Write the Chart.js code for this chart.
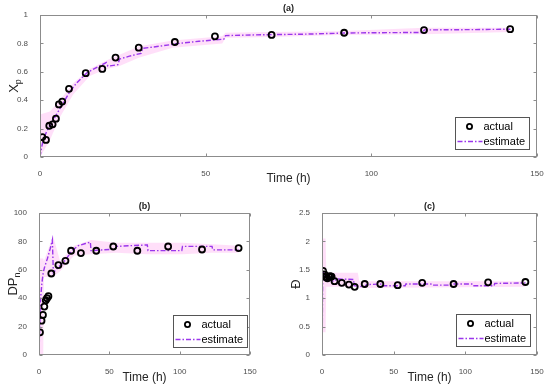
<!DOCTYPE html>
<html>
<head>
<meta charset="utf-8">
<script src="https://cdn.jsdelivr.net/npm/chart.js@4.4.1/dist/chart.umd.min.js"></script>
<style>
  body { margin: 0; background: #fff; }
  #wrap { position: relative; width: 550px; height: 389px; }
  canvas { position: absolute; }
</style>
</head>
<body>
<div id="wrap">
  <canvas id="chartA" width="550" height="195" style="left:0;top:0"></canvas>
  <canvas id="chartB" width="275" height="194" style="left:0;top:195px"></canvas>
  <canvas id="chartC" width="275" height="194" style="left:275px;top:195px"></canvas>
</div>
<script>
// sampling times (h), shared by all three panels
var times = [0.7, 1.8, 2.8, 3.8, 4.8, 5.7, 6.7, 8.75, 13.8, 18.8, 22.8, 29.8, 40.7, 52.8, 69.9, 91.8, 115.9, 141.9];

// measured values
var xpActual   = [0.14, 0.12, 0.22, 0.23, 0.27, 0.37, 0.39, 0.48, 0.59, 0.62, 0.70, 0.77, 0.81, 0.85, 0.86, 0.875, 0.894, 0.90];
var dpnActual  = [16, 24.2, 28.2, 34.1, 38.6, 40, 41.4, 57.4, 63.3, 66.3, 73.4, 71.8, 73.4, 76.4, 73.4, 76.4, 74.3, 75.3];
var dispActual = [1.48, 1.42, 1.37, 1.35, 1.38, 1.39, 1.38, 1.30, 1.27, 1.24, 1.20, 1.25, 1.25, 1.23, 1.27, 1.25, 1.28, 1.285];

// estimate (a)
var estA_t = [0, 0.5, 1, 2, 3, 4, 5, 6, 7, 8, 9, 11, 14, 17, 20, 20.5, 23.5, 24, 27, 30.5, 31, 36, 42, 48, 55.5, 56, 65, 80, 92, 100, 115.5, 116, 130, 142];
var estA_y = [0, 0.07, 0.12, 0.18, 0.22, 0.26, 0.30, 0.34, 0.38, 0.42, 0.46, 0.52, 0.59, 0.63, 0.665, 0.64, 0.65, 0.69, 0.71, 0.73, 0.765, 0.78, 0.80, 0.815, 0.83, 0.855, 0.86, 0.865, 0.873, 0.875, 0.877, 0.895, 0.897, 0.90];
var bandA_t  = [0, 3, 6, 10, 15, 20, 24, 30, 40, 55, 56, 70, 90, 116, 142];
var bandA_lo = [0, 0.12, 0.28, 0.44, 0.57, 0.62, 0.64, 0.70, 0.77, 0.80, 0.84, 0.845, 0.86, 0.865, 0.88];
var bandA_hi = [0.30, 0.32, 0.40, 0.52, 0.62, 0.68, 0.72, 0.78, 0.82, 0.85, 0.875, 0.88, 0.885, 0.91, 0.91];

// estimate (b)
var estB_t = [0, 0.5, 1, 2, 3, 4, 6, 8, 9.5, 10.2, 12, 15, 18, 21, 24, 28, 33, 36.5, 37, 45, 54, 55, 65, 77, 77.5, 101.5, 102, 123, 123.5, 142];
var estB_y = [0, 20, 38, 50, 58, 62, 68, 75, 81, 58, 60, 63, 66, 70, 74, 77, 78.5, 79.5, 73.5, 74, 74.5, 76.5, 77, 77.5, 73.5, 73.5, 76.5, 76.5, 74, 74];
var bandB_t  = [0, 3, 3.5, 10, 15, 25, 37, 55, 77, 102, 123, 142];
var bandB_lo = [0, 0, 55, 55, 59, 70, 71, 72, 71, 71, 72, 72];
var bandB_hi = [68, 68, 66, 84, 66, 77, 81, 79, 79, 79, 78, 77];

// estimate (c)
var estC_t = [0, 0.2, 0.5, 1, 2, 3, 5, 7, 9, 10, 22, 22.5, 30, 31, 42, 42.5, 58, 58.5, 76, 76.5, 90, 90.5, 105, 105.5, 120, 120.5, 142];
var estC_y = [2.0, 0.45, 1.48, 1.45, 1.40, 1.36, 1.33, 1.30, 1.30, 1.34, 1.33, 1.22, 1.20, 1.24, 1.25, 1.22, 1.22, 1.25, 1.25, 1.23, 1.23, 1.25, 1.25, 1.22, 1.22, 1.26, 1.27];
var bandC_t  = [0, 2.5, 3, 25, 26, 142];
var bandC_lo = [0.4, 0.4, 1.2, 1.2, 1.18, 1.2];
var bandC_hi = [2.05, 2.05, 1.45, 1.45, 1.3, 1.3];

var purple = '#9a36ec';
var bandColor = 'rgba(255, 170, 238, 0.38)';
var axisGray = '#8c8c8c';
var fontFam = '"Liberation Sans", Arial, sans-serif';
var dashDot = [5, 2, 1.5, 2];

var toXY = function(xs, ys) {
    var out = [];
    for (var i = 0; i < xs.length; i++) {
        out.push({ x: xs[i], y: ys[i] });
    }
    return out;
};

// matlab style labels: 0, 0.2, 1 (not 1.0)
var tickFmt = function(v) {
    return String(+Number(v).toFixed(2));
};

// box, inward ticks, panel title, y label and legend (MATLAB look)
var framePlugin = {
    id: 'frame',
    afterDraw: function(chart) {
        var o = chart.options.plugins.frame;
        var ctx = chart.ctx;
        var a = chart.chartArea;
        var xs = chart.scales.x, ys = chart.scales.y;
        ctx.save();
        ctx.strokeStyle = axisGray;
        ctx.lineWidth = 1;
        var L = Math.round(a.left) + 0.5, R = Math.round(a.right) - 0.5;
        var T = Math.round(a.top) + 0.5, B = Math.round(a.bottom) - 0.5;
        ctx.strokeRect(L, T, R - L, B - T);
        ctx.beginPath();
        xs.ticks.forEach(function(t) {
            var px = Math.round(xs.getPixelForValue(t.value)) + 0.5;
            ctx.moveTo(px, B); ctx.lineTo(px, B - 3);
            ctx.moveTo(px, T); ctx.lineTo(px, T + 3);
        });
        ys.ticks.forEach(function(t) {
            var py = Math.round(ys.getPixelForValue(t.value)) + 0.5;
            ctx.moveTo(L, py); ctx.lineTo(L + 3, py);
            ctx.moveTo(R, py); ctx.lineTo(R - 3, py);
        });
        ctx.stroke();

        // panel title
        ctx.fillStyle = '#222';
        ctx.font = 'bold 9px ' + fontFam;
        ctx.textAlign = 'center';
        ctx.textBaseline = 'middle';
        ctx.fillText(o.title, (a.left + a.right) / 2, o.titleY);

        // y label with subscript
        ctx.save();
        ctx.translate(o.yLabelX, (a.top + a.bottom) / 2);
        ctx.rotate(-Math.PI / 2);
        ctx.fillStyle = '#262626';
        ctx.font = '13px ' + fontFam;
        var w1 = ctx.measureText(o.yLabel).width;
        var w2 = 0;
        if (o.ySub) {
            ctx.font = '9px ' + fontFam;
            w2 = ctx.measureText(o.ySub).width;
        }
        var sx = -(w1 + w2) / 2;
        ctx.textAlign = 'left';
        ctx.font = '13px ' + fontFam;
        ctx.fillText(o.yLabel, sx, 0);
        if (o.ySub) {
            ctx.font = '9px ' + fontFam;
            ctx.fillText(o.ySub, sx + w1, 5);
        }
        ctx.restore();

        // legend
        var bw = 74, bh = 32;
        var bx = Math.round(a.right - o.legGapR - bw) + 0.5;
        var by = Math.round(a.bottom - o.legGapB - bh) + 0.5;
        ctx.fillStyle = '#fff';
        ctx.fillRect(bx, by, bw, bh);
        ctx.strokeStyle = '#555';
        ctx.strokeRect(bx, by, bw, bh);
        ctx.beginPath();
        ctx.strokeStyle = '#000';
        ctx.lineWidth = 1.8;
        ctx.arc(bx + 14, by + 9, 2.6, 0, Math.PI * 2);
        ctx.stroke();
        ctx.beginPath();
        ctx.strokeStyle = purple;
        ctx.lineWidth = 1.4;
        ctx.setLineDash(dashDot);
        ctx.moveTo(bx + 2, by + 24);
        ctx.lineTo(bx + 27, by + 24);
        ctx.stroke();
        ctx.setLineDash([]);
        ctx.fillStyle = '#000';
        ctx.font = '11px ' + fontFam;
        ctx.textAlign = 'left';
        ctx.textBaseline = 'middle';
        ctx.fillText('actual', bx + 28, by + 9.5);
        ctx.fillText('estimate', bx + 28, by + 24);
        ctx.restore();
    }
};

var makeChart = function(id, cfg) {
    var ctx = document.getElementById(id);
    return new Chart(ctx, {
        type: 'scatter',
        data: {
            datasets: [
                {
                    label: 'actual',
                    data: toXY(times, cfg.actual),
                    pointRadius: 3,
                    pointBorderWidth: 1.8,
                    pointBorderColor: '#000',
                    pointBackgroundColor: 'rgba(0,0,0,0)',
                    showLine: false
                },
                {
                    label: 'estimate',
                    data: toXY(cfg.estT, cfg.estY),
                    showLine: true,
                    borderColor: purple,
                    borderWidth: 1.4,
                    borderDash: dashDot,
                    pointRadius: 0,
                    tension: 0,
                    fill: false
                },
                {
                    label: 'hi',
                    data: toXY(cfg.bandT, cfg.bandHi),
                    showLine: true,
                    borderWidth: 0,
                    borderColor: 'rgba(0,0,0,0)',
                    pointRadius: 0,
                    backgroundColor: bandColor,
                    fill: '+1'
                },
                {
                    label: 'lo',
                    data: toXY(cfg.bandT, cfg.bandLo),
                    showLine: true,
                    borderWidth: 0,
                    borderColor: 'rgba(0,0,0,0)',
                    pointRadius: 0,
                    fill: false
                }
            ]
        },
        options: {
            responsive: false,
            animation: false,
            devicePixelRatio: 1,
            layout: { padding: { top: cfg.padTop, right: cfg.padRight, left: 0, bottom: 0 } },
            plugins: {
                legend: { display: false },
                tooltip: { enabled: false },
                frame: cfg.frame
            },
            scales: {
                x: {
                    type: 'linear',
                    min: 0, max: 150,
                    grid: { display: false },
                    border: { display: false },
                    ticks: { stepSize: 50, padding: 4, color: '#4d4d4d', font: { size: 8, family: fontFam }, callback: tickFmt },
                    title: {
                        display: true, text: 'Time (h)', color: '#262626',
                        font: { size: 12, family: fontFam },
                        padding: { top: 0, bottom: cfg.xTitlePad }
                    },
                    afterFit: function(s) { s.height = cfg.xHeight; }
                },
                y: {
                    min: cfg.yMin, max: cfg.yMax,
                    grid: { display: false },
                    border: { display: false },
                    ticks: { stepSize: cfg.yStep, padding: 4, color: '#4d4d4d', font: { size: 8, family: fontFam }, callback: tickFmt },
                    afterFit: function(s) { s.width = cfg.yWidth; }
                }
            }
        },
        plugins: [framePlugin]
    });
};

makeChart('chartA', {
    actual: xpActual, estT: estA_t, estY: estA_y,
    bandT: bandA_t, bandLo: bandA_lo, bandHi: bandA_hi,
    yMin: 0, yMax: 1, yStep: 0.2,
    padTop: 15, padRight: 13, yWidth: 40, xHeight: 38, xTitlePad: 9,
    frame: { title: '(a)', titleY: 9, yLabel: 'X', ySub: 'p', yLabelX: 14, legGapR: 8, legGapB: 8 }
});

makeChart('chartB', {
    actual: dpnActual, estT: estB_t, estY: estB_y,
    bandT: bandB_t, bandLo: bandB_lo, bandHi: bandB_hi,
    yMin: 0, yMax: 100, yStep: 20,
    padTop: 18, padRight: 25, yWidth: 39, xHeight: 34, xTitlePad: 4,
    frame: { title: '(b)', titleY: 12, yLabel: 'DP', ySub: 'n', yLabelX: 13, legGapR: 3, legGapB: 8 }
});

makeChart('chartC', {
    actual: dispActual, estT: estC_t, estY: estC_y,
    bandT: bandC_t, bandLo: bandC_lo, bandHi: bandC_hi,
    yMin: 0, yMax: 2.5, yStep: 0.5,
    padTop: 18, padRight: 13, yWidth: 47, xHeight: 34, xTitlePad: 4,
    frame: { title: '(c)', titleY: 12, yLabel: '\u0110', ySub: '', yLabelX: 21, legGapR: 7, legGapB: 9 }
});
</script>
</body>
</html>
